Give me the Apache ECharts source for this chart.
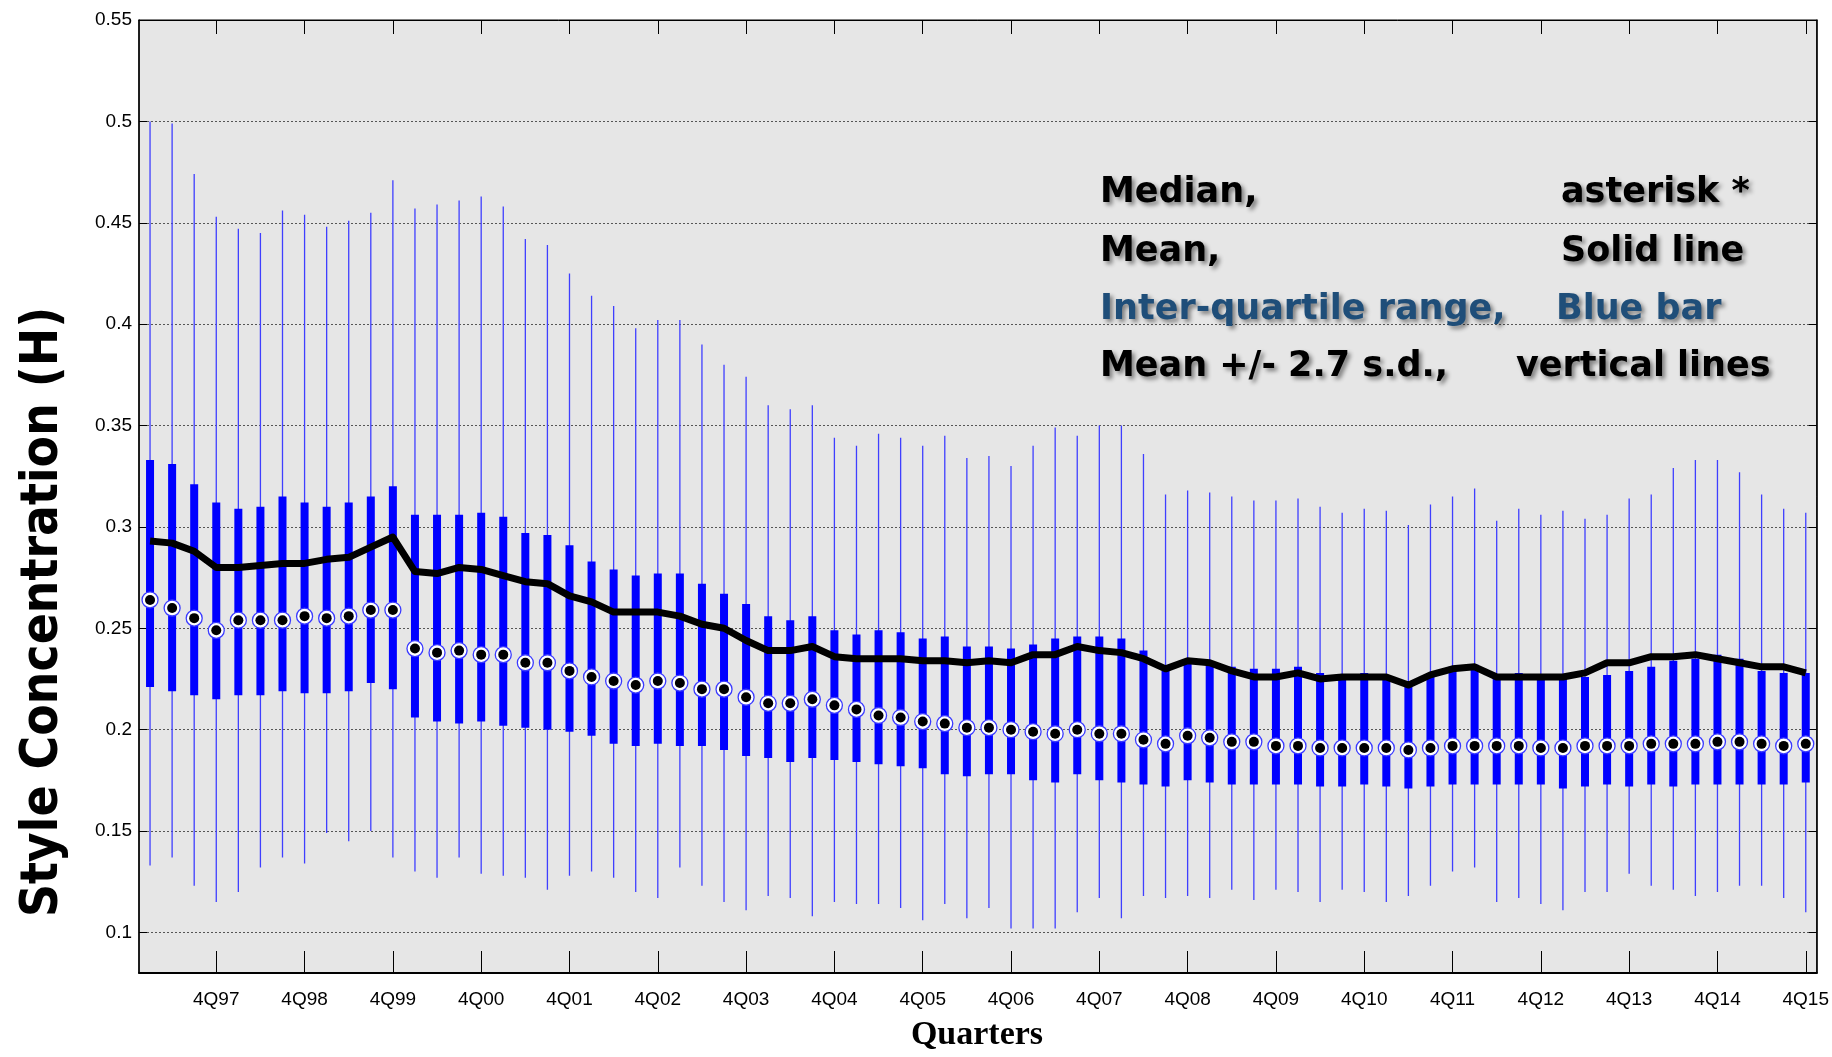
<!DOCTYPE html>
<html>
<head>
<meta charset="utf-8">
<script src="https://cdn.jsdelivr.net/npm/echarts@6/dist/echarts.min.js"></script>
<style>
  html, body { margin: 0; padding: 0; background: #fff; }
  #main { width: 1832px; height: 1057px; }
</style>
</head>
<body>
<div id="main"></div>
<script>
// tick values on the y axis
var yTicks = [0.1, 0.15, 0.2, 0.25, 0.3, 0.35, 0.4, 0.45, 0.5, 0.55];

// quarters 1Q97 .. 4Q15 (only the 4Q ones get a label)
var quarters = [];
for (var i = 0; i < 76; i++) {
    var yy = (97 + Math.floor(i / 4)) % 100;
    quarters.push((i % 4 + 1) + 'Q' + (yy < 10 ? '0' + yy : yy));
}

// mean +/- 2.7 s.d. (vertical lines)
var high = [0.500, 0.499, 0.474, 0.453, 0.447, 0.445, 0.456, 0.454, 0.448, 0.451, 0.455, 0.471, 0.457,
    0.459, 0.461, 0.463, 0.458, 0.442, 0.439, 0.425, 0.414, 0.409, 0.398, 0.402, 0.402, 0.390,
    0.380, 0.374, 0.360, 0.358, 0.360, 0.344, 0.340, 0.346, 0.344, 0.340, 0.345, 0.334, 0.335,
    0.330, 0.340, 0.349, 0.345, 0.350, 0.350, 0.336, 0.316, 0.318, 0.317, 0.315, 0.313, 0.313,
    0.314, 0.310, 0.307, 0.309, 0.308, 0.301, 0.311, 0.315, 0.319, 0.303, 0.309, 0.306, 0.308,
    0.304, 0.306, 0.314, 0.316, 0.329, 0.333, 0.333, 0.327, 0.316, 0.309, 0.307];
var low = [0.133, 0.137, 0.123, 0.115, 0.120, 0.132, 0.137, 0.134, 0.149, 0.145, 0.150, 0.137, 0.130,
    0.127, 0.137, 0.129, 0.128, 0.127, 0.121, 0.128, 0.130, 0.127, 0.120, 0.117, 0.132, 0.123,
    0.115, 0.111, 0.118, 0.117, 0.108, 0.115, 0.114, 0.114, 0.112, 0.106, 0.114, 0.107, 0.112,
    0.102, 0.102, 0.102, 0.110, 0.117, 0.107, 0.118, 0.117, 0.118, 0.117, 0.121, 0.116, 0.121,
    0.120, 0.115, 0.121, 0.120, 0.115, 0.118, 0.123, 0.130, 0.132, 0.115, 0.117, 0.114, 0.111,
    0.120, 0.120, 0.129, 0.123, 0.121, 0.118, 0.120, 0.123, 0.123, 0.117, 0.110];

// inter-quartile range (blue bar)
var q3 = [0.333, 0.331, 0.321, 0.312, 0.309, 0.310, 0.315, 0.312, 0.310, 0.312, 0.315, 0.320, 0.306,
    0.306, 0.306, 0.307, 0.305, 0.297, 0.296, 0.291, 0.283, 0.279, 0.276, 0.277, 0.277, 0.272,
    0.267, 0.262, 0.256, 0.254, 0.256, 0.249, 0.247, 0.249, 0.248, 0.245, 0.246, 0.241, 0.241,
    0.240, 0.242, 0.245, 0.246, 0.246, 0.245, 0.239, 0.229, 0.234, 0.233, 0.231, 0.230, 0.230,
    0.231, 0.228, 0.227, 0.228, 0.227, 0.221, 0.227, 0.231, 0.232, 0.226, 0.228, 0.225, 0.225,
    0.226, 0.227, 0.229, 0.231, 0.234, 0.235, 0.237, 0.235, 0.229, 0.228, 0.228];
var q1 = [0.221, 0.219, 0.217, 0.215, 0.217, 0.217, 0.219, 0.218, 0.218, 0.219, 0.223, 0.220, 0.206,
    0.204, 0.203, 0.204, 0.202, 0.201, 0.200, 0.199, 0.197, 0.193, 0.192, 0.193, 0.192, 0.192,
    0.190, 0.187, 0.186, 0.184, 0.186, 0.185, 0.184, 0.183, 0.182, 0.181, 0.178, 0.177, 0.178,
    0.178, 0.175, 0.174, 0.178, 0.175, 0.174, 0.173, 0.172, 0.175, 0.174, 0.173, 0.173, 0.173,
    0.173, 0.172, 0.172, 0.173, 0.172, 0.171, 0.172, 0.173, 0.173, 0.173, 0.173, 0.173, 0.171,
    0.172, 0.173, 0.172, 0.173, 0.172, 0.173, 0.173, 0.173, 0.173, 0.173, 0.174];

// median (circles)
var median = [0.264, 0.260, 0.255, 0.249, 0.254, 0.254, 0.254, 0.256, 0.255, 0.256, 0.259, 0.259, 0.240,
    0.238, 0.239, 0.237, 0.237, 0.233, 0.233, 0.229, 0.226, 0.224, 0.222, 0.224, 0.223, 0.220,
    0.220, 0.216, 0.213, 0.213, 0.215, 0.212, 0.210, 0.207, 0.206, 0.204, 0.203, 0.201, 0.201,
    0.200, 0.199, 0.198, 0.200, 0.198, 0.198, 0.195, 0.193, 0.197, 0.196, 0.194, 0.194, 0.192,
    0.192, 0.191, 0.191, 0.191, 0.191, 0.190, 0.191, 0.192, 0.192, 0.192, 0.192, 0.191, 0.191,
    0.192, 0.192, 0.192, 0.193, 0.193, 0.193, 0.194, 0.194, 0.193, 0.192, 0.193];

// mean (solid line)
var mean = [0.293, 0.292, 0.288, 0.280, 0.280, 0.281, 0.282, 0.282, 0.284, 0.285, 0.290, 0.295, 0.278,
    0.277, 0.280, 0.279, 0.276, 0.273, 0.272, 0.266, 0.263, 0.258, 0.258, 0.258, 0.256, 0.252,
    0.250, 0.244, 0.239, 0.239, 0.241, 0.236, 0.235, 0.235, 0.235, 0.234, 0.234, 0.233, 0.234,
    0.233, 0.237, 0.237, 0.241, 0.239, 0.238, 0.235, 0.230, 0.234, 0.233, 0.229, 0.226, 0.226,
    0.228, 0.225, 0.226, 0.226, 0.226, 0.222, 0.227, 0.230, 0.231, 0.226, 0.226, 0.226, 0.226,
    0.228, 0.233, 0.233, 0.236, 0.236, 0.237, 0.235, 0.233, 0.231, 0.231, 0.228];

var boxData = quarters.map(function (q, i) {
    return [i, low[i], q1[i], q3[i], high[i]];
});

function isYearEnd(idx) { return idx % 4 === 3; }

function renderBox(params, api) {
    var i = api.value(0);
    var lo = api.coord([i, api.value(1)]);
    var b = api.coord([i, api.value(2)]);
    var t = api.coord([i, api.value(3)]);
    var hi = api.coord([i, api.value(4)]);
    var w = 8;
    return {
        type: 'group',
        children: [
            { type: 'line', shape: { x1: lo[0], y1: lo[1], x2: hi[0], y2: hi[1] },
              style: { stroke: '#3f3fff', lineWidth: 1.3 } },
            { type: 'rect', shape: { x: t[0] - w / 2, y: t[1], width: w, height: b[1] - t[1] },
              style: { fill: '#0000ff' } }
        ]
    };
}

var chart = echarts.init(document.getElementById('main'));

// legend-like notes written on the plot
function anno(text, x, y, color) {
    return {
        type: 'text', x: x, y: y, z: 100,
        style: {
            text: text, fill: color,
            font: 'bold 35px "DejaVu Sans"',
            align: 'left', verticalAlign: 'middle', textAlign: 'left', textVerticalAlign: 'middle',
            textShadowColor: 'rgba(0,0,0,0.45)', textShadowBlur: 4, textShadowOffsetX: 3, textShadowOffsetY: 3
        }
    };
}

var option = {
    backgroundColor: '#fff',
    animation: false,
    grid: {
        left: 139, right: 15, top: 20, bottom: 84,
        show: true, backgroundColor: '#e6e6e6', borderColor: '#000', borderWidth: 1
    },
    xAxis: [{
        type: 'category', data: quarters, position: 'bottom', boundaryGap: true,
        axisLine: { show: true, lineStyle: { color: '#000', width: 2 } },
        axisTick: { show: true, inside: true, length: 22, interval: isYearEnd, alignWithLabel: true,
                    lineStyle: { color: '#000', width: 1 } },
        axisLabel: { interval: isYearEnd, color: '#000', fontFamily: 'Liberation Sans',
                     fontSize: 19, margin: 17 },
        splitLine: { show: false }
    }, {
        type: 'category', data: quarters, position: 'top', boundaryGap: true,
        axisLine: { show: true, lineStyle: { color: '#000', width: 1 } },
        axisTick: { show: true, inside: true, length: 14, interval: isYearEnd, alignWithLabel: true,
                    lineStyle: { color: '#000', width: 1 } },
        axisLabel: { show: false },
        splitLine: { show: false }
    }],
    yAxis: [{
        type: 'value', min: 0.08, max: 0.55, position: 'left',
        axisLine: { show: true, lineStyle: { color: '#000', width: 1.5 } },
        axisTick: { show: true, inside: true, length: 8, customValues: yTicks,
                    lineStyle: { color: '#000' } },
        axisLabel: { customValues: yTicks, color: '#000', fontFamily: 'Liberation Sans', fontSize: 19,
                     margin: 7,
                     formatter: function (v) { return String(Number(v.toFixed(2))); } },
        splitLine: { show: true, lineStyle: { color: '#555', type: [2, 2], width: 1 } }
    }, {
        type: 'value', min: 0.08, max: 0.55, position: 'right',
        axisLine: { show: true, lineStyle: { color: '#000', width: 1.5 } },
        axisTick: { show: true, inside: true, length: 8, customValues: yTicks,
                    lineStyle: { color: '#000' } },
        axisLabel: { show: false },
        splitLine: { show: false }
    }],
    graphic: [
        { type: 'text', x: 44, y: 612, rotation: Math.PI / 2,
          style: { text: 'Style Concentration (H)', fill: '#000',
                   font: 'bold condensed 51px "DejaVu Sans Condensed", "DejaVu Sans"',
                   align: 'center', verticalAlign: 'middle', textAlign: 'center', textVerticalAlign: 'middle' } },
        { type: 'text', x: 977, y: 1035,
          style: { text: 'Quarters', fill: '#000',
                   font: 'bold 34px "Liberation Serif"',
                   align: 'center', verticalAlign: 'middle', textAlign: 'center', textVerticalAlign: 'middle' } },
        anno('Median,', 1100, 193, '#000'),
        anno('Mean,', 1100, 252, '#000'),
        anno('Inter-quartile range,', 1100, 310, '#1f4e79'),
        anno('Mean +/- 2.7 s.d.,', 1100, 367, '#000'),
        anno('asterisk *', 1561, 193, '#000'),
        anno('Solid line', 1561, 252, '#000'),
        anno('Blue bar', 1556, 310, '#1f4e79'),
        anno('vertical lines', 1516, 367, '#000')
    ],
    series: [{
        name: 'IQR',
        type: 'custom',
        renderItem: renderBox,
        data: boxData,
        encode: { x: 0, y: [1, 2, 3, 4] },
        z: 2
    }, {
        name: 'Mean',
        type: 'line',
        data: mean,
        symbol: 'none',
        lineStyle: { color: '#000', width: 7, join: 'round' },
        z: 3
    }, {
        name: 'Median ring',
        type: 'scatter',
        data: median,
        symbol: 'circle',
        symbolSize: 16,
        itemStyle: { color: '#fff', borderColor: '#3a3aff', borderWidth: 1.3, opacity: 1 },
        z: 4
    }, {
        name: 'Median',
        type: 'scatter',
        data: median,
        symbol: 'circle',
        symbolSize: 10,
        itemStyle: { color: '#000', opacity: 1 },
        z: 5
    }]
};

chart.setOption(option);
</script>
</body>
</html>
